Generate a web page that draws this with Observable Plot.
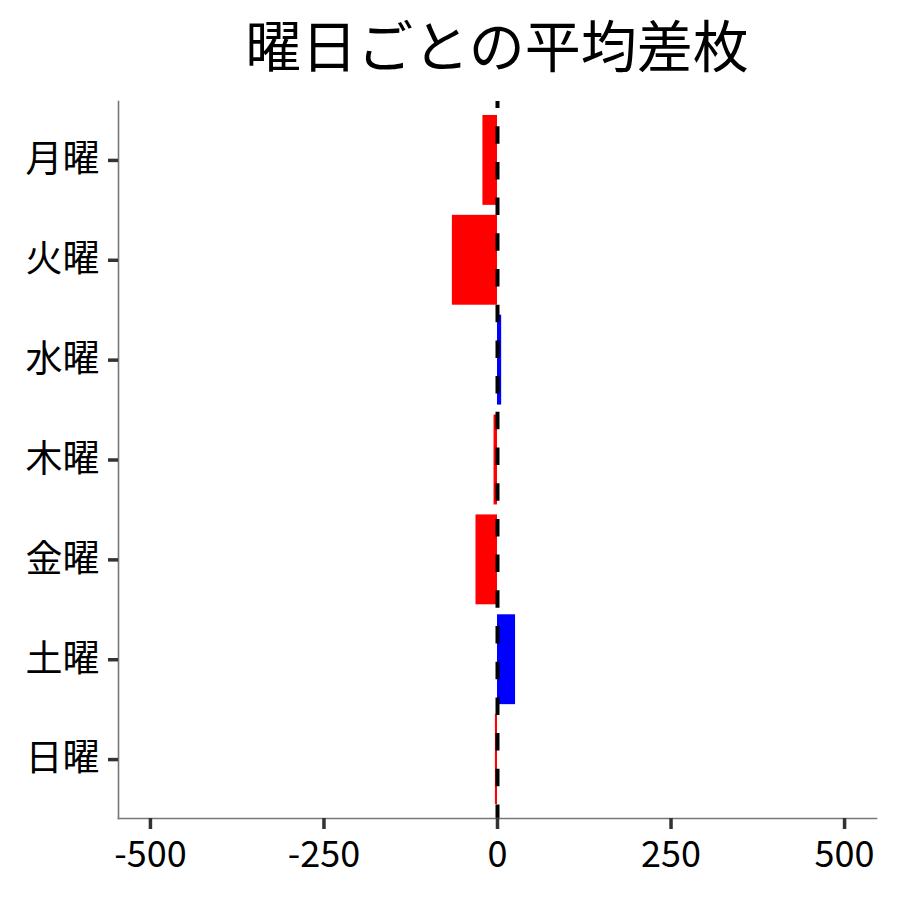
<!DOCTYPE html>
<html>
<head>
<meta charset="utf-8">
<script src="https://cdn.jsdelivr.net/npm/d3@7"></script>
<script src="https://cdn.jsdelivr.net/npm/@observablehq/plot@0.6"></script>
<style>
  html, body { margin: 0; padding: 0; background: #fff; }
  #title {
    box-sizing: border-box;
    width: 900px; height: 90px;
    padding-left: 118px; padding-right: 24px;
    text-align: center;
    font-family: "Noto Sans CJK JP", "Noto Sans", sans-serif;
    font-size: 56px; line-height: 86px; color: #000;
    white-space: nowrap; overflow: visible;
  }
  #chart svg { display: block; }
</style>
</head>
<body>
<div id="title">曜日ごとの平均差枚</div>
<div id="chart"></div>
<script>
const days = ["月曜", "火曜", "水曜", "木曜", "金曜", "土曜", "日曜"];
const diffs = [-21, -65, 6, -5, -31, 26, -3];
const xTicks = [-500, -250, 0, 250, 500];
const xDomain = [-546, 546];

const data = days.map((d, i) => ({day: d, value: diffs[i]}));

const W = 900, H = 810, ML = 118, MR = 24, MT = 11, MB = 82;
const frameW = W - ML - MR, frameH = H - MT - MB;

const chart = Plot.plot({
  width: W,
  height: H,
  marginLeft: ML,
  marginRight: MR,
  marginTop: MT,
  marginBottom: MB,
  style: {fontFamily: "'Noto Sans CJK JP', 'Noto Sans', sans-serif", background: "#fff"},
  x: {domain: xDomain, ticks: xTicks, tickFormat: d => String(d), label: null},
  y: {domain: days, paddingInner: 0.1, paddingOuter: 0.14, round: false, label: null},
  marks: [
    Plot.barX(data, {
      y: "day",
      x1: 0,
      x2: "value",
      fill: d => d.value >= 0 ? "#0000FF" : "#FF0000"
    }),
    Plot.ruleX([0], {stroke: "#000", strokeWidth: 4, strokeDasharray: "17.5,18.2", strokeDashoffset: 10.5}),
    Plot.frame({anchor: "left", stroke: "#777", strokeWidth: 1.6}),
    Plot.frame({anchor: "bottom", stroke: "#777", strokeWidth: 1.6}),
    Plot.ruleX(xTicks, {x: d => d, stroke: "#333", strokeWidth: 3.5, insetTop: frameH, insetBottom: -11}),
    Plot.ruleY(days, {y: d => d, stroke: "#333", strokeWidth: 3.5, insetLeft: -10, insetRight: frameW}),
    Plot.axisX({ticks: xTicks, tickFormat: d => String(d), tickSize: 0, tickPadding: 23, fontSize: 36, fill: "#000", label: null}),
    Plot.axisY({tickSize: 0, tickPadding: 19, fontSize: 37, fill: "#000", label: null})
  ]
});
document.getElementById("chart").appendChild(chart);
</script>
</body>
</html>
